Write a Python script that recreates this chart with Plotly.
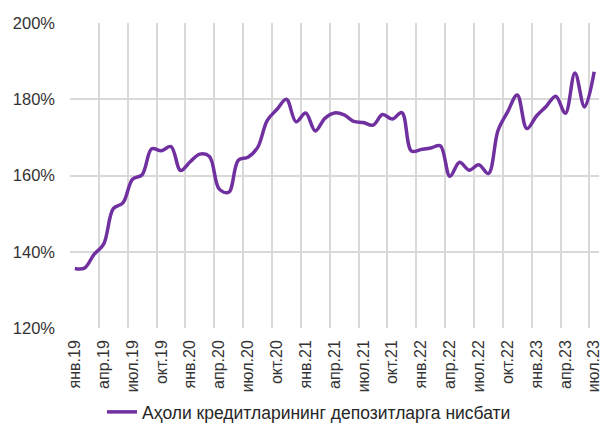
import plotly.graph_objects as go

# Monthly ratio of household loans to deposits, %, Jan 2019 – Jul 2023
months = ["янв", "фев", "мар", "апр", "май", "июн",
          "июл", "авг", "сен", "окт", "ноя", "дек"]
years = ["19", "20", "21", "22", "23"]
n_months = 55

ratio = [
    135.6, 135.7, 139.3, 142.0, 151.3, 152.8, 159.0, 160.2, 167.0, 166.5, 167.6, 161.3,  # 2019
    163.6, 165.6, 165.0, 156.5, 155.6, 164.0, 164.8, 167.3, 174.4, 177.3, 180.0, 174.1,  # 2020
    176.4, 171.7, 175.0, 176.4, 175.9, 174.2, 173.9, 173.2, 176.0, 174.8, 176.5, 166.4,  # 2021
    166.8, 167.2, 167.8, 159.8, 163.5, 161.4, 162.8, 160.5, 171.8, 176.7, 181.1, 172.3,  # 2022
    175.6, 178.1, 180.8, 176.3, 186.9, 178.0, 187.2,                                      # 2023
]
series_name = "Аҳоли кредитларининг депозитларга нисбати"
y_ticks = [120, 140, 160, 180, 200]

labels = [f"{months[i % 12]}.{years[i // 12]}" for i in range(n_months)]
x = list(range(n_months))
label_idx = list(range(0, n_months, 3))

FONT = "Liberation Sans, Arial, sans-serif"
GRID = "#d9d9d9"
TXT = "#333333"

fig = go.Figure(
    go.Scatter(
        x=x,
        y=ratio,
        mode="lines",
        name=series_name,
        line=dict(color="#7030a0", width=3.5, shape="spline", smoothing=1),
        showlegend=True,
    )
)

fig.update_layout(
    width=603,
    height=423,
    margin=dict(l=70, r=1, t=23, b=95),
    paper_bgcolor="white",
    plot_bgcolor="white",
    font=dict(family=FONT, size=16, color=TXT),
    showlegend=True,
    legend=dict(
        orientation="h",
        xref="container",
        yref="container",
        x=102 / 603,
        xanchor="left",
        y=11 / 423,
        yanchor="middle",
        font=dict(family=FONT, size=17.5, color="#262626"),
        bgcolor="rgba(0,0,0,0)",
    ),
    xaxis=dict(
        range=[-0.5, n_months - 0.5],
        tickmode="array",
        tickvals=label_idx,
        ticktext=[labels[i] for i in label_idx],
        tickangle=-90,
        showgrid=False,
        zeroline=False,
        ticks="",
        ticklabelstandoff=8,
        ticklabeloverflow="allow",
        tickfont=dict(family=FONT, size=16, color=TXT),
        minor=dict(
            tickmode="array",
            tickvals=[i - 0.5 for i in label_idx],
            showgrid=True,
            gridcolor=GRID,
            gridwidth=1.5,
            ticks="",
        ),
        fixedrange=True,
    ),
    yaxis=dict(
        range=[120, 200],
        tickmode="array",
        tickvals=y_ticks,
        ticktext=[f"{v}%" for v in y_ticks],
        showgrid=True,
        gridcolor=GRID,
        gridwidth=1.5,
        zeroline=False,
        ticks="",
        ticklabelstandoff=14,
        tickfont=dict(family=FONT, size=16.5, color=TXT),
        fixedrange=True,
    ),
)

fig.write_html("out.html", config={"displayModeBar": False})
